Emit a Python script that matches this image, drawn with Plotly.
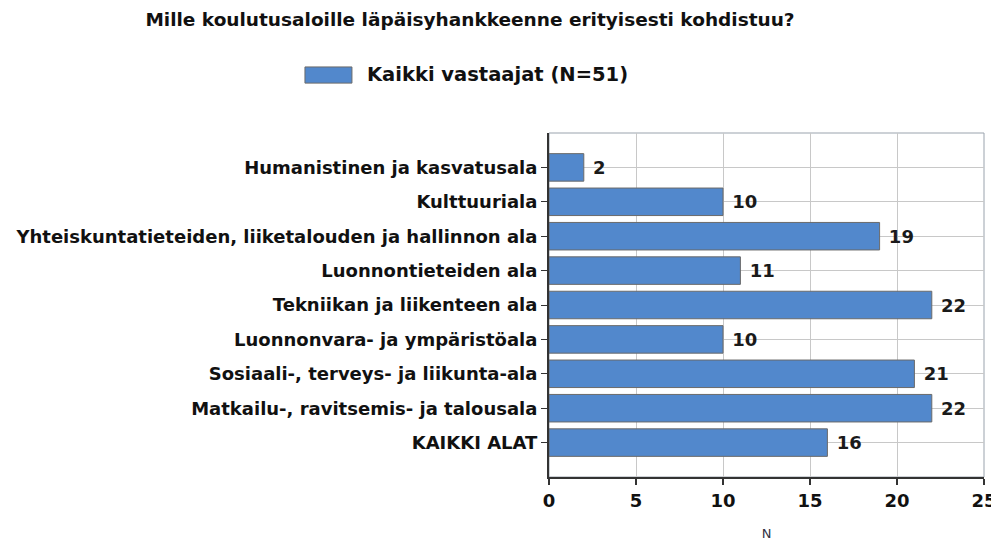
import plotly.graph_objects as go

categories = [
    "Humanistinen ja kasvatusala",
    "Kulttuuriala",
    "Yhteiskuntatieteiden, liiketalouden ja hallinnon ala",
    "Luonnontieteiden ala",
    "Tekniikan ja liikenteen ala",
    "Luonnonvara- ja ympäristöala",
    "Sosiaali-, terveys- ja liikunta-ala",
    "Matkailu-, ravitsemis- ja talousala",
    "KAIKKI ALAT",
]
values = [2, 10, 19, 11, 22, 10, 21, 22, 16]
series_name = "Kaikki vastaajat (N=51)"
title_text = "Mille koulutusaloille läpäisyhankkeenne erityisesti kohdistuu?"
x_ticks = [0, 5, 10, 15, 20, 25]

FONT = "DejaVu Sans"
BAR_COLOR = "#5288cc"
BAR_LINE = "#6a6a6a"

fig = go.Figure()
fig.add_trace(go.Bar(
    y=categories,
    x=values,
    orientation="h",
    name=series_name,
    width=0.8,
    showlegend=False,
    marker=dict(color=BAR_COLOR, line=dict(color=BAR_LINE, width=1)),
    text=[f" {v}" for v in values],
    textposition="outside",
    cliponaxis=False,
    textfont=dict(family=FONT, size=18, color="#1a1a1a", weight="bold"),
))

fig.update_layout(
    width=999, height=541,
    margin=dict(l=541, r=23, t=125, b=72),
    paper_bgcolor="white", plot_bgcolor="white",
    title=dict(text="<b>" + title_text + "</b>", x=462 / 999, xref="container", xanchor="center",
               y=1 - 12 / 541, yref="container", yanchor="middle",
               font=dict(family=FONT, size=18.5, color="#111")),
    showlegend=False,
    font=dict(family=FONT),
)

fig.update_xaxes(
    range=[0, 25], tickvals=x_ticks, automargin=False,
    showgrid=True, gridcolor="#c8c8c8", gridwidth=1,
    showline=True, linecolor="#333", linewidth=2,
    ticks="outside", ticklen=6, tickcolor="#333", tickwidth=2,
    tickfont=dict(family=FONT, size=18, color="#111", weight="bold"),
    title=dict(text="N", font=dict(family=FONT, size=13, color="#334"), standoff=19),
    zeroline=False,
)
fig.update_yaxes(
    categoryorder="array", categoryarray=categories, automargin=False,
    autorange=False, range=[len(categories), -1],
    showgrid=True, gridcolor="#c8c8c8", gridwidth=1,
    showline=True, linecolor="#333", linewidth=2,
    ticks="outside", ticklen=6, tickcolor="#333", tickwidth=1,
    tickfont=dict(family=FONT, size=18, color="#111", weight="bold"),
)

# plot frame (top/right border in grey)
fig.add_shape(type="rect", xref="paper", yref="paper", x0=0, x1=1, y0=0, y1=1,
              line=dict(color="#9aa3ad", width=1), layer="below")

# legend: swatch + label
fig.add_shape(type="rect", xref="paper", yref="paper",
              x0=-0.561, x1=-0.453, y0=1.145, y1=1.192,
              fillcolor=BAR_COLOR, line=dict(color=BAR_LINE, width=1))
fig.add_annotation(text="<b>" + series_name + "</b>", xref="paper", yref="paper",
                   x=-0.423, y=1.169, xanchor="left", yanchor="middle", showarrow=False,
                   font=dict(family=FONT, size=19.5, color="#111"))

fig.write_html("out.html")
